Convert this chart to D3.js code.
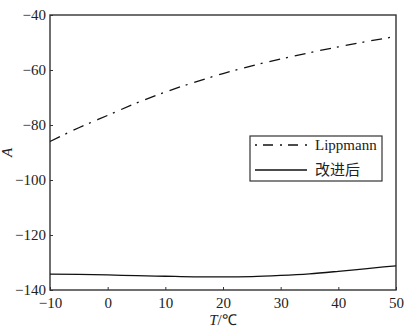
<!DOCTYPE html>
<html>
<head>
<meta charset="utf-8">
<script src="https://cdn.jsdelivr.net/npm/d3@7/dist/d3.min.js"></script>
<style>
  html, body { margin: 0; padding: 0; background: #fff; }
</style>
</head>
<body>
<svg id="chart" width="412" height="332"></svg>
<script>
// Temperature samples (°C)
var temps = [-10, -5, 0, 5, 10, 15, 20, 25, 30, 35, 40, 45, 50];
// Lippmann curve
var lippmann = [-86, -81, -76.5, -72, -68, -64.5, -61.3, -58.5, -56, -53.7, -51.6, -49.6, -47.8];
// improved (改进后) curve
var improved = [-134.2, -134.3, -134.5, -134.8, -135, -135.2, -135.2, -135.1, -134.7, -134.1, -133.2, -132.2, -131.2];

var xTicks = [-10, 0, 10, 20, 30, 40, 50];
var yTicks = [-140, -120, -100, -80, -60, -40];
var seriesNames = ['Lippmann', '改进后'];

var serif = "'Liberation Serif', serif";

var margin = { top: 15, right: 16, bottom: 42, left: 50 },
  width = 412 - margin.left - margin.right,
  height = 332 - margin.top - margin.bottom;

var svg = d3.select('#chart');
var g = svg.append('g')
  .attr('transform', 'translate(' + margin.left + ',' + margin.top + ')');

var x = d3.scaleLinear().domain([-10, 50]).range([0, width]);
var y = d3.scaleLinear().domain([-140, -40]).range([height, 0]);

// Axes (ticks pointing inward)
var xAxis = g.append('g')
  .call(d3.axisBottom(x).tickValues(xTicks).tickSizeInner(-3).tickSizeOuter(0).tickPadding(7));
xAxis.attr('transform', 'translate(0,' + height + ')');
var yAxis = g.append('g')
  .call(d3.axisLeft(y).tickValues(yTicks).tickSizeInner(-3).tickSizeOuter(0).tickPadding(4));

[xAxis, yAxis].forEach(function (a) {
  a.attr('font-family', null).attr('font-size', null);
  a.select('.domain').remove();
  a.selectAll('line').attr('stroke', '#333').attr('stroke-width', 1);
  a.selectAll('text').attr('fill', '#222')
    .style('font-family', serif).style('font-size', '15px');
});

// Frame
g.append('rect')
  .attr('width', width).attr('height', height)
  .attr('fill', 'none').attr('stroke', '#333').attr('stroke-width', 1.4);

var line = d3.line()
  .x(function (d) { return x(d[0]); })
  .y(function (d) { return y(d[1]); })
  .curve(d3.curveMonotoneX);

g.append('path')
  .datum(d3.zip(temps, lippmann))
  .attr('d', line)
  .attr('fill', 'none').attr('stroke', '#111')
  .attr('stroke-width', 1.3)
  .attr('stroke-dasharray', '11,6,2,7');

g.append('path')
  .datum(d3.zip(temps, improved))
  .attr('d', line)
  .attr('fill', 'none').attr('stroke', '#111')
  .attr('stroke-width', 1.3);

// Legend
var legend = svg.append('g').attr('transform', 'translate(250,136)');
legend.append('rect')
  .attr('width', 132).attr('height', 45)
  .attr('fill', '#fff').attr('stroke', '#333').attr('stroke-width', 1.2);

seriesNames.forEach(function (name, i) {
  var row = legend.append('g').attr('transform', 'translate(0,' + (9 + i * 25) + ')');
  row.append('line')
    .attr('x1', 5).attr('x2', 57)
    .attr('stroke', '#111').attr('stroke-width', 1.3)
    .attr('stroke-dasharray', i === 0 ? '2,6,10,7' : null);
  row.append('text')
    .attr('x', 65).attr('y', 5)
    .attr('fill', '#222')
    .style('font-size', '15px')
    .style('font-family', i === 0 ? serif : "'Noto Sans CJK SC', sans-serif")
    .text(name);
});

// Axis titles
svg.append('text')
  .attr('transform', 'translate(12,' + (margin.top + height / 2) + ') rotate(-90)')
  .attr('text-anchor', 'middle')
  .attr('fill', '#222')
  .style('font-family', serif).style('font-size', '15px').style('font-style', 'italic')
  .text('A');

var xt = svg.append('text')
  .attr('x', margin.left + width / 2).attr('y', 325)
  .attr('text-anchor', 'middle')
  .attr('fill', '#222')
  .style('font-family', serif).style('font-size', '15px');
xt.append('tspan').style('font-style', 'italic').text('T');
xt.append('tspan').text('/℃');
</script>
</body>
</html>
